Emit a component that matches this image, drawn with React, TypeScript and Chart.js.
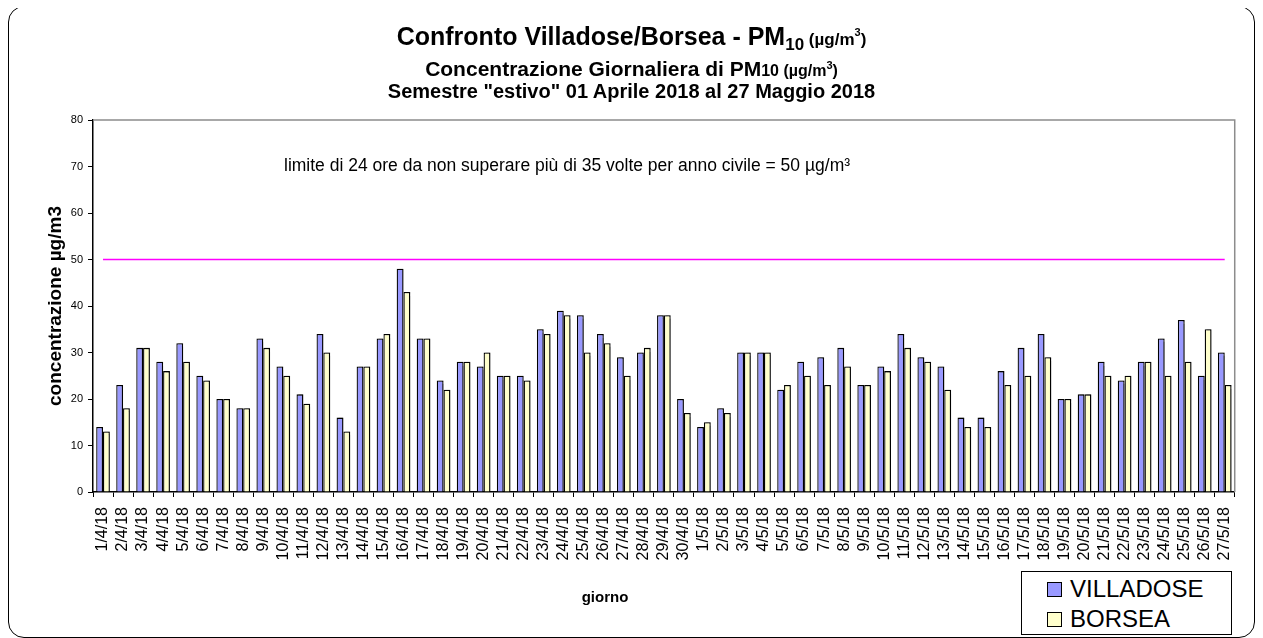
import React, { useEffect, useRef } from "react";
import { Chart, registerables } from "chart.js";

Chart.register(...registerables);

const days = [
  "1/4/18", "2/4/18", "3/4/18", "4/4/18", "5/4/18", "6/4/18", "7/4/18", "8/4/18", "9/4/18", "10/4/18",
  "11/4/18", "12/4/18", "13/4/18", "14/4/18", "15/4/18", "16/4/18", "17/4/18", "18/4/18", "19/4/18", "20/4/18",
  "21/4/18", "22/4/18", "23/4/18", "24/4/18", "25/4/18", "26/4/18", "27/4/18", "28/4/18", "29/4/18", "30/4/18",
  "1/5/18", "2/5/18", "3/5/18", "4/5/18", "5/5/18", "6/5/18", "7/5/18", "8/5/18", "9/5/18", "10/5/18",
  "11/5/18", "12/5/18", "13/5/18", "14/5/18", "15/5/18", "16/5/18", "17/5/18", "18/5/18", "19/5/18", "20/5/18",
  "21/5/18", "22/5/18", "23/5/18", "24/5/18", "25/5/18", "26/5/18", "27/5/18",
];

const villadose = [
  14, 23, 31, 28, 32, 25, 20, 18, 33, 27,
  21, 34, 16, 27, 33, 48, 33, 24, 28, 27,
  25, 25, 35, 39, 38, 34, 29, 30, 38, 20,
  14, 18, 30, 30, 22, 28, 29, 31, 23, 27,
  34, 29, 27, 16, 16, 26, 31, 34, 20, 21,
  28, 24, 28, 33, 37, 25, 30,
];

const borsea = [
  13, 18, 31, 26, 28, 24, 20, 18, 31, 25,
  19, 30, 13, 27, 34, 43, 33, 22, 28, 30,
  25, 24, 34, 38, 30, 32, 25, 31, 38, 17,
  15, 17, 30, 30, 23, 25, 23, 27, 23, 26,
  31, 28, 22, 14, 14, 23, 25, 29, 20, 21,
  25, 25, 28, 25, 28, 35, 23,
];

const yTicks = [0, 10, 20, 30, 40, 50, 60, 70, 80];
const LIMIT = 50;
const ANNOTATION = "limite di 24 ore da non superare più di 35 volte per anno civile = 50 µg/m³";
const X_TITLE = "giorno";

const FONT = "'Liberation Sans', Arial, Helvetica, sans-serif";

const limitPlugin = {
  id: "limitPlugin",
  beforeDatasetsDraw(chart: any) {
    const { ctx, chartArea } = chart;
    ctx.save();
    ctx.strokeStyle = "#8c8c8c";
    ctx.lineWidth = 1.5;
    ctx.beginPath();
    ctx.moveTo(chartArea.left, chartArea.top);
    ctx.lineTo(chartArea.right, chartArea.top);
    ctx.lineTo(chartArea.right, chartArea.bottom);
    ctx.stroke();
    ctx.restore();
  },
  beforeDatasetDraw(chart: any) {
    const ctx = chart.ctx;
    ctx.shadowColor = "rgba(0,0,0,0.4)";
    ctx.shadowOffsetX = 2;
    ctx.shadowOffsetY = 0;
    ctx.shadowBlur = 1;
  },
  afterDatasetDraw(chart: any) {
    const ctx = chart.ctx;
    ctx.shadowColor = "rgba(0,0,0,0)";
    ctx.shadowOffsetX = 0;
    ctx.shadowOffsetY = 0;
    ctx.shadowBlur = 0;
  },
  afterDatasetsDraw(chart: any) {
    const { ctx, chartArea, scales } = chart;
    const x = scales.x;
    const y = scales.y;
    const yPix = y.getPixelForValue(LIMIT);
    const x0 = x.getPixelForValue(0);
    const x1 = x.getPixelForValue(days.length - 1);
    ctx.save();
    ctx.strokeStyle = "#ff00ff";
    ctx.lineWidth = 1.5;
    ctx.beginPath();
    ctx.moveTo(x0, yPix);
    ctx.lineTo(x1, yPix);
    ctx.stroke();
    ctx.font = `17.5px ${FONT}`;
    ctx.fillStyle = "#000";
    ctx.textBaseline = "middle";
    ctx.textAlign = "left";
    ctx.fillText(ANNOTATION, chartArea.left + 191, chartArea.top + 46);
    ctx.font = `bold 15px ${FONT}`;
    ctx.textAlign = "center";
    ctx.fillText(X_TITLE, chartArea.left + 512, chartArea.bottom + 106);
    ctx.restore();
  },
};

export default function App() {
  const canvasRef = useRef<HTMLCanvasElement | null>(null);

  useEffect(() => {
    if (!canvasRef.current) return;
    const chart = new Chart(canvasRef.current, {
      type: "bar",
      data: {
        labels: days,
        datasets: [
          {
            label: "VILLADOSE",
            data: villadose,
            backgroundColor: "#9999ff",
            borderColor: "#000000",
            borderWidth: 1.3,
            categoryPercentage: 0.68,
            barPercentage: 1.0,
          },
          {
            label: "BORSEA",
            data: borsea,
            backgroundColor: "#ffffcc",
            borderColor: "#000000",
            borderWidth: 1.3,
            categoryPercentage: 0.68,
            barPercentage: 1.0,
          },
        ],
      },
      options: {
        animation: false,
        responsive: false,
        maintainAspectRatio: false,
        layout: { padding: { top: 113, right: 10, left: 0, bottom: 0 } },
        plugins: {
          legend: { display: false },
          title: { display: false },
          tooltip: { enabled: false },
        },
        scales: {
          x: {
            offset: true,
            grid: {
              offset: true,
              drawOnChartArea: false,
              drawTicks: true,
              tickLength: 5,
              color: "#000",
            },
            border: { display: true, color: "#000", width: 1.5 },
            ticks: {
              autoSkip: false,
              minRotation: 90,
              maxRotation: 90,
              padding: 10,
              color: "#000",
              font: { family: FONT, size: 16 },
            },
            title: { display: false },
            afterFit: (scale: any) => {
              scale.height = 145;
            },
          },
          y: {
            min: 0,
            max: 80,
            afterBuildTicks: (scale: any) => {
              scale.ticks = yTicks.map((v) => ({ value: v }));
            },
            grid: {
              drawOnChartArea: false,
              drawTicks: true,
              tickLength: 5,
              color: "#000",
            },
            border: { display: true, color: "#000", width: 1.5 },
            ticks: {
              padding: 5,
              color: "#000",
              font: { family: FONT, size: 11 },
            },
            title: {
              display: true,
              text: "concentrazione µg/m3",
              color: "#000",
              font: { family: FONT, size: 19, weight: "bold" },
              padding: { top: 35, bottom: 0 },
            },
            afterFit: (scale: any) => {
              scale.width = 84;
            },
          },
        },
      },
      plugins: [limitPlugin],
    } as any);
    return () => chart.destroy();
  }, []);

  const center: React.CSSProperties = {
    position: "absolute",
    left: 0,
    right: 0,
    textAlign: "center",
    fontWeight: "bold",
    whiteSpace: "nowrap",
    transform: "translateY(-50%)",
    lineHeight: 1,
    color: "#000",
  };

  return (
    <div
      style={{
        position: "relative",
        width: 1247,
        height: 632,
        marginTop: -2,
        boxSizing: "border-box",
        border: "1px solid #000",
        borderRadius: 16,
        fontFamily: FONT,
        overflow: "hidden",
        background: "#fff",
      }}
    >
      <canvas
        ref={canvasRef}
        width={1245}
        height={630}
        style={{ position: "absolute", left: 0, top: 0, width: 1245, height: 630 }}
      />
      <div style={{ ...center, top: 31, fontSize: 25 }}>
        Confronto Villadose/Borsea - PM
        <span style={{ fontSize: 17, verticalAlign: "-5px" }}>10</span>
        <span style={{ fontSize: 17 }}>
          {" "}(µg/m<span style={{ fontSize: 11, verticalAlign: "9px" }}>3</span>)
        </span>
      </div>
      <div style={{ ...center, top: 61, fontSize: 21 }}>
        Concentrazione Giornaliera di PM<span style={{ fontSize: 16 }}>10 (µg/m<span style={{ fontSize: 11, verticalAlign: "7px" }}>3</span>)</span>
      </div>
      <div style={{ ...center, top: 84, fontSize: 20 }}>
        Semestre "estivo" 01 Aprile 2018 al 27 Maggio 2018
      </div>
      <div
        style={{
          position: "absolute",
          left: 1012,
          top: 564,
          width: 211,
          height: 64,
          boxSizing: "border-box",
          border: "1px solid #000",
          background: "#fff",
          fontSize: 24,
          color: "#000",
        }}
      >
        {[
          { label: "VILLADOSE", color: "#9999ff", top: 17 },
          { label: "BORSEA", color: "#ffffcc", top: 47 },
        ].map((it) => (
          <div
            key={it.label}
            style={{
              position: "absolute",
              left: 25,
              top: it.top,
              transform: "translateY(-50%)",
              display: "flex",
              alignItems: "center",
              lineHeight: 1,
            }}
          >
            <span
              style={{
                display: "inline-block",
                width: 15,
                height: 15,
                boxSizing: "border-box",
                border: "1px solid #000",
                background: it.color,
                marginRight: 8,
              }}
            />
            <span>{it.label}</span>
          </div>
        ))}
      </div>
    </div>
  );
}
